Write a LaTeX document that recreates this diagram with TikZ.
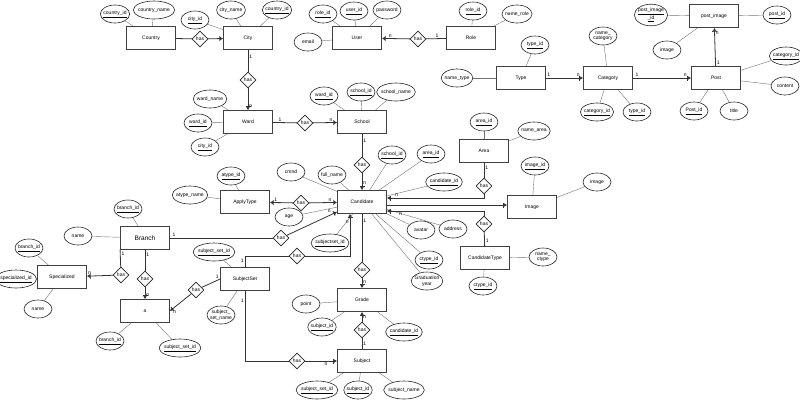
\documentclass[tikz,border=0pt]{standalone}
\usepackage{fontspec}
\setmainfont{Liberation Sans}
\usetikzlibrary{shapes.geometric,arrows.meta,calc}
\pgfdeclarelayer{bg}
\pgfsetlayers{bg,main}

\tikzset{
  entity/.style={draw=black!75, line width=0.8pt, minimum width=49pt, minimum height=23pt, inner sep=1pt, font=\fontsize{5}{6}\selectfont},
  attr/.style={ellipse, draw=black!85, line width=0.6pt, fill=white, minimum width=28pt, minimum height=18pt, inner xsep=-1.2pt, inner ysep=0.5pt, align=center, font=\fontsize{5}{5.5}\selectfont},
  rel/.style={diamond, draw=black!85, line width=0.6pt, fill=white, aspect=1.1, minimum size=16pt, inner sep=0pt, font=\fontsize{5}{6}\selectfont},
  link/.style={draw=black!80, line width=0.8pt},
  attrline/.style={draw=black!55, line width=0.4pt},
  arr/.style={-{Bar[width=5pt] Latex[length=3pt,width=3.5pt]}},
  lab/.style={font=\fontsize{5}{6}\selectfont, inner sep=1pt},
}

\begin{document}
\begin{tikzpicture}[x=1pt,y=-1pt]
                \useasboundingbox (0,0) rectangle (800,400);

                % entities
                \node[entity] (Country) at (151,38) {Country};
                \node[entity] (City) at (248,38) {City};
                \node[entity] (Ward) at (248,122) {Ward};
                \node[entity] (School) at (362,122) {School};
                \node[entity] (Candidate) at (362,202) {Candidate};
                \node[entity] (ApplyType) at (245,202) {ApplyType};
                \node[entity, font=\fontsize{6.5}{7}\selectfont] (Branch) at (145,238) {Branch};
                \node[entity] (Specialized) at (62,277) {Specialized};
                \node[entity] (a) at (145,311) {a};
                \node[entity] (SubjectSet) at (245,279) {SubjectSet};
                \node[entity] (Grade) at (362,300) {Grade};
                \node[entity] (Subject) at (362,361) {Subject};
                \node[entity] (Area) at (484,151) {Area};
                \node[entity] (Image) at (532,207) {Image};
                \node[entity] (CandidateType) at (485,258) {CandidateType};
                \node[entity] (User) at (357,38) {User};
                \node[entity] (Role) at (471,38) {Role};
                \node[entity] (Type) at (521,78) {Type};
                \node[entity] (Category) at (608,78) {Category};
                \node[entity] (Post) at (716,78) {Post};
                \node[entity] (PostImage) at (714,16) {post\_image};

                % relations
                \node[rel] (hasCC) at (200,39) {has};
                \node[rel] (hasCW) at (248,80) {has};
                \node[rel] (hasWS) at (305,123) {has};
                \node[rel] (hasSC) at (362,165) {has};
                \node[rel] (hasAC) at (301,203) {has};
                \node[rel] (hasBC) at (281,238) {has};
                \node[rel] (hasSSC) at (297,256) {has};
                \node[rel] (hasSSS) at (297,361) {has};
                \node[rel] (hasSSA) at (196,290) {has};
                \node[rel] (hasBS) at (121,275) {has};
                \node[rel] (hasBA) at (145,279) {has};
                \node[rel] (hasCG) at (362,270) {has};
                \node[rel] (hasSG) at (362,330) {has};
                \node[rel] (hasAr) at (484,186) {has};
                \node[rel] (hasCT) at (484,224) {has};
                \node[rel] (hasUR) at (418,39) {has};

                % attributes
                \node[attr] (countryid) at (115,14) {\underline{country\_id}};
                \node[attr] (countryname) at (154,10) {country\_name};
                \node[attr] (cityid) at (195,20) {\underline{city\_id}};
                \node[attr] (cityname) at (231,10) {city\_name};
                \node[attr] (citycountryid) at (277,10) {\underline{country\_id}};
                \node[attr] (wardname) at (210,99) {ward\_name};
                \node[attr] (wardid) at (198,123) {\underline{ward\_id}};
                \node[attr] (wardcityid) at (205,147) {\underline{city\_id}};
                \node[attr] (schoolwardid) at (324,96) {\underline{ward\_id}};
                \node[attr] (schoolid) at (361,92) {\underline{school\_id}};
                \node[attr] (schoolname) at (396,92) {school\_name};
                \node[attr] (email) at (308,42) {email};
                \node[attr] (userroleid) at (323,14) {\underline{role\_id}};
                \node[attr] (userid) at (354,11) {\underline{user\_id}};
                \node[attr] (password) at (387,10) {password};
                \node[attr] (roleid) at (473,11) {\underline{role\_id}};
                \node[attr] (namerole) at (517,14) {name\_role};
                \node[attr] (nametype) at (457,78) {name\_type};
                \node[attr] (typeid) at (535,45) {\underline{type\_id}};
                \node[attr] (namecategory) at (603,36) {name\_\\category};
                \node[attr] (categoryid) at (597,112) {\underline{category\_id}};
                \node[attr] (cattypeid) at (637,112) {\underline{type\_id}};
                \node[attr] (postcategoryid) at (786,56) {\underline{category\_id}};
                \node[attr] (content) at (785,86) {content};
                \node[attr] (postid) at (694,111) {\underline{Post\_id}};
                \node[attr] (title) at (734,111) {title};
                \node[attr] (postimageid) at (651,15) {\underline{post\_image}\\\underline{\_id}};
                \node[attr] (pipostid) at (777,15) {\underline{post\_id}};
                \node[attr] (piimage) at (667,50) {image};
                \node[attr] (cmnd) at (291,172) {cmnd};
                \node[attr] (fullname) at (332,175) {full\_name};
                \node[attr] (candschoolid) at (392,155) {\underline{school\_id}};
                \node[attr] (candareaid) at (431,154) {\underline{area\_id}};
                \node[attr] (candidateid) at (444,182) {\underline{candidate\_id}};
                \node[attr] (age) at (289,217) {age};
                \node[attr] (avatar) at (421,230) {avatar};
                \node[attr] (address) at (453,229) {address};
                \node[attr] (candctypeid) at (429,260) {\underline{ctype\_id}};
                \node[attr] (gradyear) at (427,281) {Graduation\\year};
                \node[attr] (subjectsetid) at (330,243) {\underline{subjectset\_id}};
                \node[attr] (atypeid) at (231,176) {\underline{atype\_id}};
                \node[attr] (atypename) at (190,195) {atype\_name};
                \node[attr] (branchid) at (128,209) {\underline{branch\_id}};
                \node[attr] (branchname) at (78,236) {name};
                \node[attr] (spbranchid) at (29,248) {\underline{branch\_id}};
                \node[attr] (specializedid) at (16,279) {\underline{specialized\_id}};
                \node[attr] (spname) at (38,309) {name};
                \node[attr] (abranchid) at (110,341) {\underline{branch\_id}};
                \node[attr] (asubjectsetid) at (180,348) {\underline{subject\_set\_id}};
                \node[attr] (sssubjectsetid) at (214,252) {\underline{subject\_set\_id}};
                \node[attr] (subjectsetname) at (221,315) {subject\_\\set\_name};
                \node[attr] (point) at (306,304) {point};
                \node[attr] (gsubjectid) at (322,327) {\underline{subject\_id}};
                \node[attr] (gcandidateid) at (404,332) {\underline{candidate\_id}};
                \node[attr] (ssubjectsetid) at (317,390) {\underline{subject\_set\_id}};
                \node[attr] (subjectid) at (358,390) {\underline{subject\_id}};
                \node[attr] (subjectname) at (404,390) {subject\_name};
                \node[attr] (areaid) at (484,122) {\underline{area\_id}};
                \node[attr] (namearea) at (534,131) {name\_area};
                \node[attr] (imageid) at (535,166) {\underline{image\_id}};
                \node[attr] (imgimage) at (597,182) {image};
                \node[attr] (namectype) at (543,257) {name\_\\ctype};
                \node[attr] (ctypeid) at (483,286) {\underline{ctype\_id}};

                \begin{pgfonlayer}{bg}
                \foreach \at/\en in {countryid/Country, countryname/Country, cityid/City, cityname/City, citycountryid/City,
                    wardname/Ward, wardid/Ward, wardcityid/Ward, schoolwardid/School, schoolid/School, schoolname/School,
                    email/User, userroleid/User, userid/User, password/User, roleid/Role, namerole/Role,
                    nametype/Type, typeid/Type, namecategory/Category, categoryid/Category, cattypeid/Category,
                    postcategoryid/Post, content/Post, postid/Post, title/Post,
                    postimageid/PostImage, pipostid/PostImage, piimage/PostImage,
                    cmnd/Candidate, fullname/Candidate, candschoolid/Candidate, candareaid/Candidate, candidateid/Candidate,
                    age/Candidate, avatar/Candidate, address/Candidate, candctypeid/Candidate, gradyear/Candidate, subjectsetid/Candidate,
                    atypeid/ApplyType, atypename/ApplyType, branchid/Branch, branchname/Branch,
                    spbranchid/Specialized, specializedid/Specialized, spname/Specialized,
                    abranchid/a, asubjectsetid/a, sssubjectsetid/SubjectSet, subjectsetname/SubjectSet,
                    point/Grade, gsubjectid/Grade, gcandidateid/Grade,
                    ssubjectsetid/Subject, subjectid/Subject, subjectname/Subject,
                    areaid/Area, namearea/Area, imageid/Image, imgimage/Image,
                    namectype/CandidateType, ctypeid/CandidateType}
                    \draw[attrline] (\at) -- (\en);
                \end{pgfonlayer}

                % connectors
                \coordinate (cAr) at ([yshift=4pt]Candidate.east);
                \coordinate (cImg) at ([yshift=-3pt]Candidate.east);
                \coordinate (cCT) at ([yshift=-9pt]Candidate.east);
                \coordinate (cSS) at ([xshift=-12pt]Candidate.south);
                \coordinate (cBC) at ([yshift=2pt]Candidate.south west);

                \draw[link] (Country) -- (hasCC);
                \draw[link, arr] (hasCC) -- (City);
                \draw[link] (City) -- node[lab, pos=0.3, right] {1} (hasCW);
                \draw[link, arr] (hasCW) -- node[lab, pos=0.8, right] {n} (Ward);
                \draw[link] (Ward) -- node[lab, pos=0.3, above] {1} (hasWS);
                \draw[link, arr] (hasWS) -- node[lab, pos=0.75, above] {n} (School);
                \draw[link] (School) -- node[lab, pos=0.3, right] {1} (hasSC);
                \draw[link, arr] (hasSC) -- node[lab, pos=0.6, right] {n} (Candidate);
                \draw[link, arr] (hasAC) -- node[lab, pos=0.75, above] {1} (ApplyType);
                \draw[link, arr] (hasAC) -- node[lab, pos=0.75, above] {n} (Candidate);
                \draw[link] (Branch) -- node[lab, pos=0.04, above] {1} (hasBC);
                \draw[link, arr] (hasBC) -- node[lab, pos=0.9, above left] {n} (cBC);
                \draw[link] (SubjectSet.north) |- node[lab, pos=0.3, left] {1} (hasSSC);
                \draw[link, arr] (hasSSC) -| node[lab, pos=0.9, left] {n} (cSS);
                \draw[link] (SubjectSet.south) |- node[lab, pos=0.07, left] {1} (hasSSS);
                \draw[link, arr] (hasSSS) -- node[lab, pos=0.65, below] {n} (Subject);
                \draw[link] (SubjectSet.west) -- node[lab, pos=0.15, above] {1} (hasSSA);
                \draw[link, arr] (hasSSA) -- node[lab, pos=0.9, below right] {n} (a.east);
                \draw[link] (Branch.south west) -- node[lab, pos=0.25, right] {1} (hasBS);
                \draw[link, arr] (hasBS) -- node[lab, pos=0.9, above] {n} (Specialized);
                \draw[link] (Branch.south) -- node[lab, pos=0.25, right] {1} (hasBA);
                \draw[link, arr] (hasBA) -- node[lab, pos=0.7, right] {n} (a);
                \draw[link] (Candidate) -- node[lab, pos=0.15, right] {1} (hasCG);
                \draw[link, arr] (hasCG) -- node[lab, pos=0.4, right] {n} (Grade);
                \draw[link] (Subject) -- node[lab, pos=0.45, right] {1} (hasSG);
                \draw[link, arr] (hasSG) -- node[lab, pos=0.5, right] {n} (Grade);
                \draw[link] (Area) -- node[lab, pos=0.35, right] {1} (hasAr);
                \draw[link, arr] (hasAr.south) |- node[lab, pos=0.95, above] {n} (cAr);
                \draw[link, arr] (cImg) -- (cImg -| Image.west);
                \draw[link] (CandidateType) -- node[lab, pos=0.35, right] {1} (hasCT);
                \draw[link, arr] (hasCT.north) |- node[lab, pos=0.93, below] {n} (cCT);
                \draw[link, arr] (hasUR) -- node[lab, pos=0.7, above] {n} (User);
                \draw[link] (Role) -- node[lab, pos=0.45, above] {1} (hasUR);
                \draw[link, arr] (Type) -- node[lab, pos=0.08, above] {1} node[lab, pos=0.87, above] {n} (Category);
                \draw[link, arr] (Category) -- node[lab, pos=0.07, above] {1} node[lab, pos=0.9, above] {n} (Post);
                \draw[link, arr] (Post) -- node[lab, pos=0.1, right] {1} node[lab, pos=0.85, right] {n} (PostImage);

\end{tikzpicture}
\end{document}
